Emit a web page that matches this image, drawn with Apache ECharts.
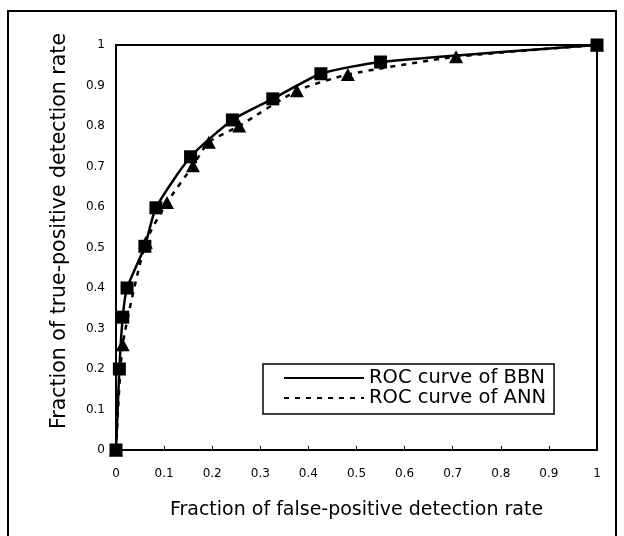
<!DOCTYPE html>
<html><head><meta charset="utf-8">
<script src="https://cdn.jsdelivr.net/npm/echarts@6/dist/echarts.min.js"></script>
<style>html,body{margin:0;padding:0;background:#fff}#c{width:624px;height:536px}</style>
</head><body><div id="c"></div>
<script>
// Data
const bbnFPR = [0, 0.007, 0.014, 0.023, 0.06, 0.083, 0.155, 0.242, 0.326, 0.426, 0.55, 1.0];
const bbnTPR = [0, 0.2, 0.328, 0.4, 0.503, 0.598, 0.724, 0.815, 0.867, 0.929, 0.958, 1.0];
const annFPR = [0, 0.014, 0.062, 0.106, 0.16, 0.193, 0.256, 0.376, 0.482, 0.707, 1.0];
const annTPR = [0, 0.26, 0.513, 0.611, 0.702, 0.76, 0.80, 0.887, 0.927, 0.971, 1.0];
const tickLabels = ['0', '0.1', '0.2', '0.3', '0.4', '0.5', '0.6', '0.7', '0.8', '0.9', '1'];
const seriesNames = ['ROC curve of BBN', 'ROC curve of ANN'];
const xTitle = 'Fraction of false-positive detection rate';
const yTitle = 'Fraction of true-positive detection rate';

const zip = (a, b) => a.map((v, i) => [v, b[i]]);
const fmt = v => tickLabels[Math.round(v * 10)] ?? String(v);
const FONT = 'DejaVu Sans';

const chart = echarts.init(document.getElementById('c'), null, {renderer: 'canvas'});
chart.setOption({
  animation: false,
  backgroundColor: '#fff',
  grid: {left: 116, right: 27, top: 45, bottom: 86, show: true, borderColor: '#000', borderWidth: 2, backgroundColor: 'transparent'},
  xAxis: {
    type: 'value', min: 0, max: 1, interval: 0.1,
    axisLine: {show: true, lineStyle: {color: '#000', width: 2}},
    axisTick: {show: true, inside: true, length: 4, lineStyle: {color: '#000', width: 1}},
    splitLine: {show: false},
    axisLabel: {formatter: fmt, color: '#000', fontFamily: FONT, fontSize: 12, margin: 18},
    name: xTitle, nameLocation: 'middle', nameGap: 51,
    nameTextStyle: {color: '#000', fontFamily: FONT, fontSize: 19}
  },
  yAxis: {
    type: 'value', min: 0, max: 1, interval: 0.1,
    axisLine: {show: true, lineStyle: {color: '#000', width: 2}},
    axisTick: {show: false},
    splitLine: {show: false},
    axisLabel: {formatter: fmt, color: '#000', fontFamily: FONT, fontSize: 12, margin: 11}
  },
  legend: {
    left: 263, top: 364, orient: 'vertical',
    data: seriesNames,
    itemWidth: 80, itemHeight: 14, itemGap: 0,
    padding: [4, 8, 6, 20],
    borderColor: '#000', borderWidth: 1.5, borderRadius: 0,
    backgroundColor: '#fff',
    itemStyle: {opacity: 0, borderWidth: 0},
    textStyle: {color: '#000', fontFamily: FONT, fontSize: 19.5, lineHeight: 19}
  },
  graphic: [
    {type: 'rect', shape: {x: 8, y: 11, width: 608, height: 560}, style: {fill: 'none', stroke: '#000', lineWidth: 2}, silent: true},
    {type: 'text', x: 60, y: 231, rotation: Math.PI / 2,
     style: {text: yTitle, fill: '#000', font: '20.5px "DejaVu Sans"', align: 'center', verticalAlign: 'middle'}}
  ],
  series: [
    {name: seriesNames[0], type: 'line', data: zip(bbnFPR, bbnTPR), smooth: 0.2, symbol: 'none',
     lineStyle: {color: '#000', width: 2.5, type: 'solid'}, itemStyle: {color: '#000'}, z: 3},
    {name: seriesNames[1], type: 'line', data: zip(annFPR, annTPR), smooth: 0.2, symbol: 'none',
     lineStyle: {color: '#000', width: 2.5, type: [5, 6]}, itemStyle: {color: '#000'}, z: 2},
    {name: 'annMarkers', type: 'scatter', data: zip(annFPR, annTPR), symbol: 'triangle', symbolSize: [14, 13],
     itemStyle: {color: '#000', opacity: 1}, clip: false, z: 4},
    {name: 'bbnMarkers', type: 'scatter', data: zip(bbnFPR, bbnTPR), symbol: 'rect', symbolSize: 13,
     itemStyle: {color: '#000', opacity: 1}, clip: false, z: 5}
  ]
});
</script></body></html>
